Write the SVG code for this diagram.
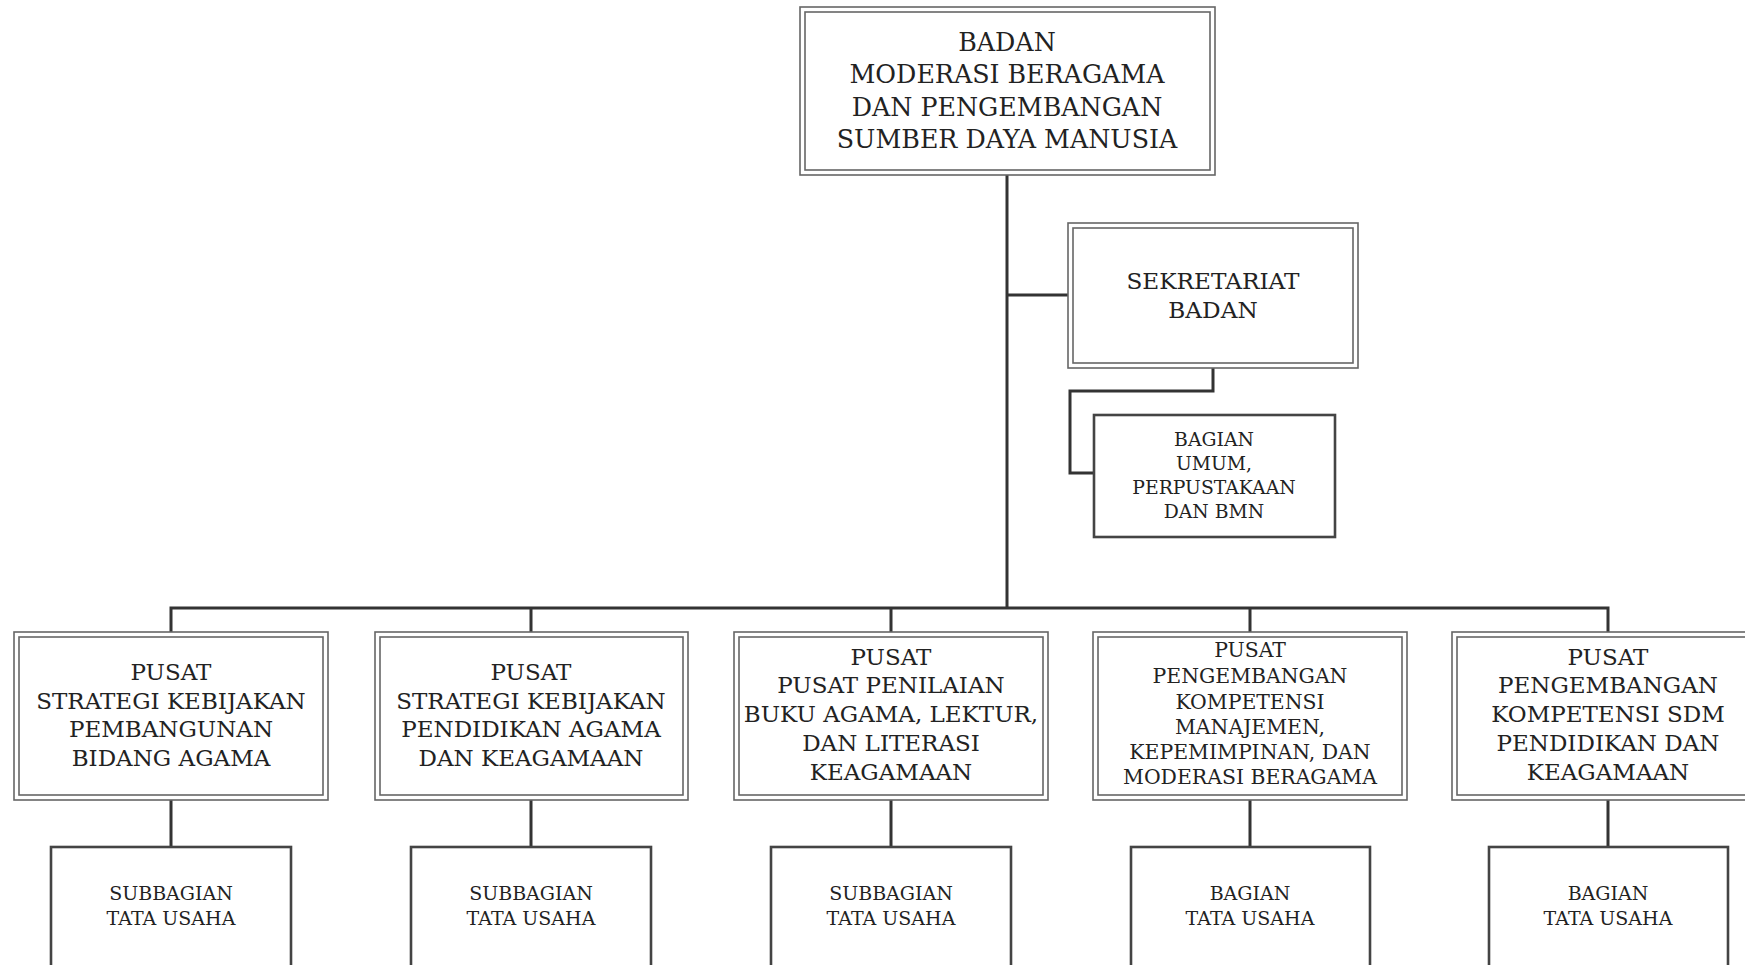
<svg xmlns="http://www.w3.org/2000/svg" width="1745" height="965" viewBox="0 0 1745 965">
<style>
.o{fill:#fff;stroke:#666;stroke-width:1.6}
.i{fill:none;stroke:#666;stroke-width:1.6}
.s{fill:#fff;stroke:#444;stroke-width:2.6}
.c{fill:none;stroke:#333;stroke-width:3}
text{font-family:"DejaVu Serif","Liberation Serif",serif;fill:#222;text-anchor:middle}
.t1{font-size:25.3px}
.t2{font-size:23.2px}
.t3{font-size:23px}
.t4{font-size:20.4px}
.t5{font-size:18.8px}
.t6{font-size:19px}
</style>
<rect width="1745" height="965" fill="#fff"/>
<g id="connectors">
<path class="c" d="M1007 175V608"/>
<path class="c" d="M1007 295H1068"/>
<path class="c" d="M1213 368V391H1070V473H1094"/>
<path class="c" d="M171 632V608H1608V632"/>
<path class="c" d="M531 608V632M891 608V632M1250 608V632"/>
<path class="c" d="M171 800V847M531 800V847M891 800V847M1250 800V847M1608 800V847"/>
</g>
<g id="badan">
<rect class="o" x="800" y="7" width="415" height="168"/>
<rect class="i" x="805" y="12" width="405" height="158"/>
<text class="t1" x="1007"><tspan x="1007" y="51">BADAN</tspan><tspan x="1007" y="83">MODERASI BERAGAMA</tspan><tspan x="1007" y="116">DAN PENGEMBANGAN</tspan><tspan x="1007" y="148">SUMBER DAYA MANUSIA</tspan></text>
</g>
<g id="sekretariat">
<rect class="o" x="1068" y="223" width="290" height="145"/>
<rect class="i" x="1073" y="228" width="280" height="135"/>
<text class="t2"><tspan x="1213" y="289">SEKRETARIAT</tspan><tspan x="1213" y="318">BADAN</tspan></text>
</g>
<g id="bagian-umum">
<rect class="s" x="1094" y="415" width="241" height="122"/>
<text class="t5"><tspan x="1214" y="446">BAGIAN</tspan><tspan x="1214" y="470">UMUM,</tspan><tspan x="1214" y="494">PERPUSTAKAAN</tspan><tspan x="1214" y="518">DAN BMN</tspan></text>
</g>
<g id="pusat1">
<rect class="o" x="14" y="632" width="314" height="168"/>
<rect class="i" x="19" y="637" width="304" height="158"/>
<text class="t3"><tspan x="171" y="680">PUSAT</tspan><tspan x="171" y="709">STRATEGI KEBIJAKAN</tspan><tspan x="171" y="737">PEMBANGUNAN</tspan><tspan x="171" y="766">BIDANG AGAMA</tspan></text>
</g>
<g id="pusat2">
<rect class="o" x="375" y="632" width="313" height="168"/>
<rect class="i" x="380" y="637" width="303" height="158"/>
<text class="t3"><tspan x="531" y="680">PUSAT</tspan><tspan x="531" y="709">STRATEGI KEBIJAKAN</tspan><tspan x="531" y="737">PENDIDIKAN AGAMA</tspan><tspan x="531" y="766">DAN KEAGAMAAN</tspan></text>
</g>
<g id="pusat3">
<rect class="o" x="734" y="632" width="314" height="168"/>
<rect class="i" x="739" y="637" width="304" height="158"/>
<text class="t3"><tspan x="891" y="665">PUSAT</tspan><tspan x="891" y="693">PUSAT PENILAIAN</tspan><tspan x="891" y="722">BUKU AGAMA, LEKTUR,</tspan><tspan x="891" y="751">DAN LITERASI</tspan><tspan x="891" y="780">KEAGAMAAN</tspan></text>
</g>
<g id="pusat4">
<rect class="o" x="1093" y="632" width="314" height="168"/>
<rect class="i" x="1098" y="637" width="304" height="158"/>
<text class="t4"><tspan x="1250" y="657">PUSAT</tspan><tspan x="1250" y="683">PENGEMBANGAN</tspan><tspan x="1250" y="709">KOMPETENSI</tspan><tspan x="1250" y="734">MANAJEMEN,</tspan><tspan x="1250" y="759">KEPEMIMPINAN, DAN</tspan><tspan x="1250" y="784">MODERASI BERAGAMA</tspan></text>
</g>
<g id="pusat5">
<rect class="o" x="1452" y="632" width="314" height="168"/>
<rect class="i" x="1457" y="637" width="304" height="158"/>
<text class="t3"><tspan x="1608" y="665">PUSAT</tspan><tspan x="1608" y="693">PENGEMBANGAN</tspan><tspan x="1608" y="722">KOMPETENSI SDM</tspan><tspan x="1608" y="751">PENDIDIKAN DAN</tspan><tspan x="1608" y="780">KEAGAMAAN</tspan></text>
</g>
<g id="tu1">
<rect class="s" x="51" y="847" width="240" height="140"/>
<text class="t6"><tspan x="171" y="900">SUBBAGIAN</tspan><tspan x="171" y="925">TATA USAHA</tspan></text>
</g>
<g id="tu2">
<rect class="s" x="411" y="847" width="240" height="140"/>
<text class="t6"><tspan x="531" y="900">SUBBAGIAN</tspan><tspan x="531" y="925">TATA USAHA</tspan></text>
</g>
<g id="tu3">
<rect class="s" x="771" y="847" width="240" height="140"/>
<text class="t6"><tspan x="891" y="900">SUBBAGIAN</tspan><tspan x="891" y="925">TATA USAHA</tspan></text>
</g>
<g id="tu4">
<rect class="s" x="1131" y="847" width="239" height="140"/>
<text class="t6"><tspan x="1250" y="900">BAGIAN</tspan><tspan x="1250" y="925">TATA USAHA</tspan></text>
</g>
<g id="tu5">
<rect class="s" x="1489" y="847" width="239" height="140"/>
<text class="t6"><tspan x="1608" y="900">BAGIAN</tspan><tspan x="1608" y="925">TATA USAHA</tspan></text>
</g>
</svg>
